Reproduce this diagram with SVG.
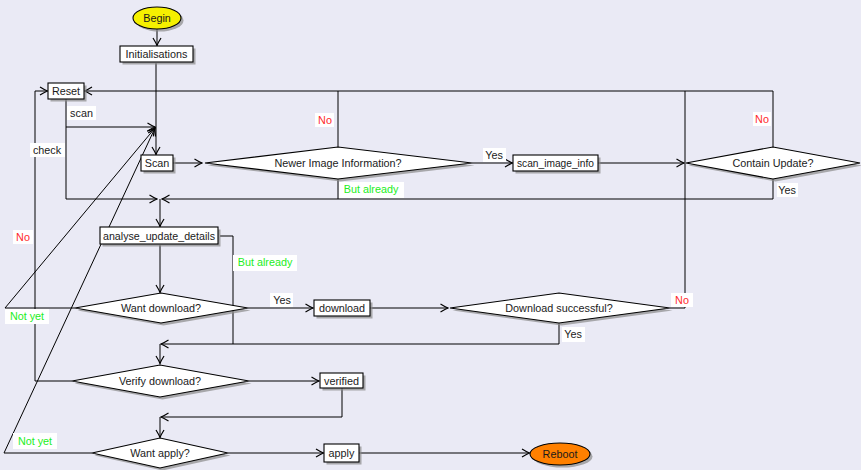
<svg xmlns="http://www.w3.org/2000/svg" width="861" height="470" viewBox="0 0 861 470">
<style>
text{font-family:"Liberation Sans","DejaVu Sans",sans-serif;font-size:10.8px;fill:#1a1a1a;text-anchor:middle}
.n{fill:#fff;stroke:#000;stroke-width:1.1}
.sh{fill:#8a8a8a;opacity:.7}
.c path{fill:none;stroke:#000;stroke-width:1}
.ar{marker-end:url(#a)}
.lb{fill:#fff}
.r{fill:#ff2a2a}
.g{fill:#22ee22}
</style>
<defs>
<marker id="a" viewBox="-9 -5 10 10" refX="0" refY="0" markerWidth="10" markerHeight="10" orient="auto" markerUnits="userSpaceOnUse">
<path d="M-7.5,-4 Q-2.5,-0.9 0,0 Q-2.5,0.9 -7.5,4" fill="none" stroke="#000" stroke-width="1.2"/>
</marker>
</defs>
<rect width="861" height="470" fill="#eaeaf5"/>

<g class="c">
<path class="ar" d="M157,29 V45.5"/>
<path class="ar" d="M156,63 V154.5"/>
<path class="ar" d="M173,163 H202"/>
<path class="ar" d="M472,163 H512.5"/>
<path class="ar" d="M598,163 H684"/>
<path class="ar" d="M773,147 V91 H84.5"/>
<path d="M338,147 V91"/>
<path d="M670,308 H685 V91"/>
<path class="ar" d="M773,179 V199 H162"/>
<path d="M338,179 V199"/>
<path class="ar" d="M66,99 V199 H157"/>
<path class="ar" d="M66,127 H155"/>
<path class="ar" d="M160,199 V226.5"/>
<path class="ar" d="M160,245 V292.5"/>
<path class="ar" d="M220,236 H233 V344 H161"/>
<path d="M559,323 V344 H233"/>
<path class="ar" d="M248,308 H313"/>
<path class="ar" d="M370,308 H448"/>
<path class="ar" d="M75,308 H5 L155,128"/>
<path class="ar" d="M160,344 V363.5"/>
<path class="ar" d="M72,381 H35 V91 H47.5"/>
<path class="ar" d="M249,381 H319"/>
<path class="ar" d="M342,388 V417 H161"/>
<path class="ar" d="M160,417 V437.5"/>
<path class="ar" d="M92,453 H4 L155,128"/>
<path class="ar" d="M228,453 H323.5"/>
<path class="ar" d="M359,453 H529.5"/>
</g>

<g id="labels">
<rect class="lb" x="315" y="113" width="19" height="14"/><text class="r" x="325" y="124">No</text>
<rect class="lb" x="67" y="106" width="29" height="14"/><text x="81.5" y="117">scan</text>
<rect class="lb" x="30" y="143" width="35" height="14"/><text x="47" y="154">check</text>
<rect class="lb" x="483" y="148" width="23" height="14"/><text x="494" y="159">Yes</text>
<rect class="lb" x="339" y="182" width="65" height="16"/><text class="g" x="371" y="193">But already</text>
<rect class="lb" x="753" y="112" width="18" height="14"/><text class="r" x="762" y="123">No</text>
<rect class="lb" x="777" y="183" width="21" height="14"/><text x="787" y="194">Yes</text>
<rect class="lb" x="13" y="230" width="20" height="14"/><text class="r" x="23" y="241">No</text>
<rect class="lb" x="233" y="255" width="64" height="16"/><text class="g" x="265" y="266">But already</text>
<rect class="lb" x="5" y="309" width="44" height="15"/><text class="g" x="27" y="320">Not yet</text>
<rect class="lb" x="270" y="293" width="23" height="14"/><text x="282" y="304">Yes</text>
<rect class="lb" x="671" y="293" width="22" height="14"/><text class="r" x="682" y="304">No</text>
<rect class="lb" x="562" y="327" width="23" height="15"/><text x="573" y="338">Yes</text>
<rect class="lb" x="13" y="433" width="44" height="16"/><text class="g" x="35" y="445">Not yet</text>
</g>

<g id="begin">
<ellipse class="sh" cx="159.5" cy="20.5" rx="24" ry="11"/>
<ellipse cx="157" cy="18" rx="24" ry="11" fill="#f5f000" stroke="#000" stroke-width="1.1"/>
<text x="157" y="22">Begin</text>
</g>
<g id="initialisations">
<rect class="sh" x="122.5" y="48.5" width="73" height="16"/>
<rect class="n" x="120" y="46" width="73" height="16"/>
<text x="156.5" y="58">Initialisations</text>
</g>
<g id="reset">
<rect class="sh" x="50.5" y="85.5" width="36" height="16"/>
<rect class="n" x="48" y="83" width="36" height="16"/>
<text x="66" y="95">Reset</text>
</g>
<g id="scan">
<rect class="sh" x="143.5" y="157.5" width="32" height="16"/>
<rect class="n" x="141" y="155" width="32" height="16"/>
<text x="157" y="167">Scan</text>
</g>
<g id="newer">
<polygon class="sh" points="207.5,165.5 340.5,149.5 474.5,165.5 340.5,181.5"/>
<polygon class="n" points="205,163 338,147 472,163 338,179"/>
<text x="338" y="167">Newer Image Information?</text>
</g>
<g id="scan_image_info">
<rect class="sh" x="515.5" y="157.5" width="85" height="16"/>
<rect class="n" x="513" y="155" width="85" height="16"/>
<text x="555.5" y="167" textLength="77" lengthAdjust="spacingAndGlyphs">scan_image_info</text>
</g>
<g id="contain">
<polygon class="sh" points="688.5,165.5 775.5,149.5 862.5,165.5 775.5,181.5"/>
<polygon class="n" points="686,163 773,147 860,163 773,179"/>
<text x="773" y="167">Contain Update?</text>
</g>
<g id="analyse">
<rect class="sh" x="102.5" y="229.5" width="118" height="17"/>
<rect class="n" x="100" y="227" width="118" height="17"/>
<text x="159" y="239.5" textLength="112" lengthAdjust="spacingAndGlyphs">analyse_update_details</text>
</g>
<g id="wantdownload">
<polygon class="sh" points="77.5,310.5 163.5,295.5 250.5,310.5 163.5,325.5"/>
<polygon class="n" points="75,308 161,293 248,308 161,323"/>
<text x="161" y="312">Want download?</text>
</g>
<g id="download">
<rect class="sh" x="316.5" y="302.5" width="56" height="16"/>
<rect class="n" x="314" y="300" width="56" height="16"/>
<text x="342" y="312">download</text>
</g>
<g id="downloadsuccess">
<polygon class="sh" points="452.5,310.5 561.5,295.5 672.5,310.5 561.5,325.5"/>
<polygon class="n" points="450,308 559,293 670,308 559,323"/>
<text x="559" y="312">Download successful?</text>
</g>
<g id="verify">
<polygon class="sh" points="74.5,383.5 162.5,367.5 251.5,383.5 162.5,399.5"/>
<polygon class="n" points="72,381 160,365 249,381 160,397"/>
<text x="160" y="385">Verify download?</text>
</g>
<g id="verified">
<rect class="sh" x="322.5" y="375.5" width="43" height="15"/>
<rect class="n" x="320" y="373" width="43" height="15"/>
<text x="341.5" y="384.5">verified</text>
</g>
<g id="wantapply">
<polygon class="sh" points="94.5,455.5 162.5,440.5 230.5,455.5 162.5,470.5"/>
<polygon class="n" points="92,453 160,438 228,453 160,468"/>
<text x="160" y="457">Want apply?</text>
</g>
<g id="apply">
<rect class="sh" x="326.5" y="446.5" width="35" height="18"/>
<rect class="n" x="324" y="444" width="35" height="18"/>
<text x="341.5" y="457">apply</text>
</g>
<g id="reboot">
<ellipse class="sh" cx="562.5" cy="456.5" rx="30" ry="11"/>
<ellipse cx="560" cy="454" rx="30" ry="11" fill="#ff8000" stroke="#000" stroke-width="1.1"/>
<text x="560" y="458">Reboot</text>
</g>
</svg>
